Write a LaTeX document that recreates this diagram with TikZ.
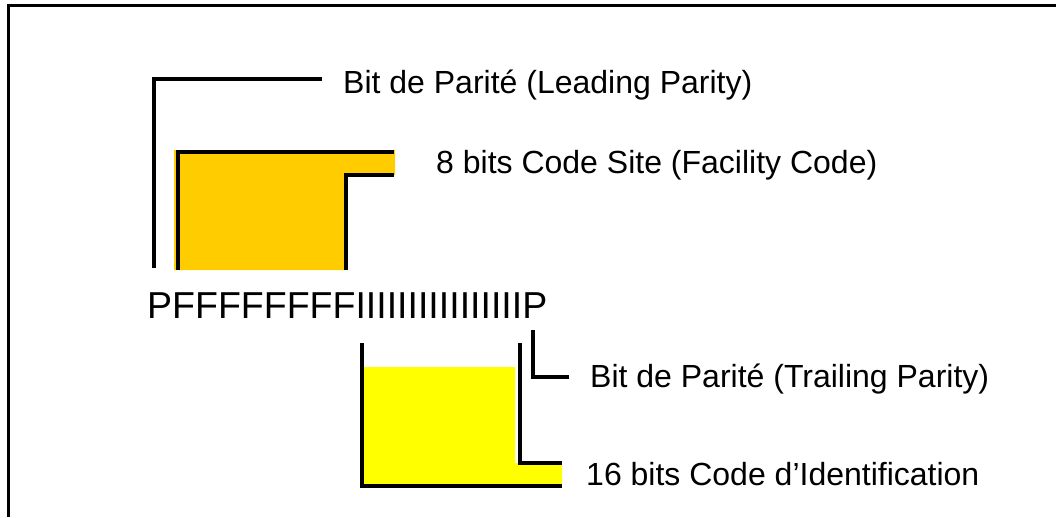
\documentclass[tikz,border=0pt]{standalone}
\usepackage{fontspec}
\setmainfont{Liberation Sans}
\definecolor{siteorange}{HTML}{FFCC00}
\definecolor{identyellow}{HTML}{FFFF00}
\tikzset{
  lbl/.style={anchor=base west, inner sep=0pt, font=\fontsize{32}{36}\selectfont},
  bracket/.style={line width=3.2pt}
}

\begin{document}
\begin{tikzpicture}[x=1pt, y=-1pt]
  \useasboundingbox (0,0) rectangle (1056,517);
  % frame
  \draw[line width=3pt] (8,517) |- (1056,5);

  % bit string
  \node[lbl, font=\fontsize{37.5}{40}\selectfont] (bits) at (147,318) {PFFFFFFFFIIIIIIIIIIIIIIIIP};

  % leading parity
  \node[lbl] (lead) at (343,93) {Bit de Parité (Leading Parity)};
  \coordinate (leadend) at (322,79);
  \draw[bracket] (154,268) |- (leadend);

  % facility code
  \fill[siteorange] (174,150) -- (395,150) -- (395,175) -- (346,175) -- (346,270) -- (174,270) -- cycle;
  \node[lbl] (site) at (436,173) {8 bits Code Site (Facility Code)};
  \coordinate (siteend) at (394,152);
  \coordinate (sitestep) at (394,175);
  \draw[bracket] (178,270) |- (siteend);
  \draw[bracket] (346,270) |- (sitestep);

  % identification code
  \fill[identyellow] (364,367) -- (515,367) -- (515,463) -- (562,463) -- (562,486) -- (364,486) -- cycle;
  \node[lbl] (ident) at (586,485) {16 bits Code d’Identification};
  \coordinate (identend) at (562,486);
  \coordinate (identstep) at (562,463);
  \draw[bracket] (362,343) |- (identend);
  \draw[bracket] (520,343) |- (identstep);

  % trailing parity
  \node[lbl] (trail) at (590,387) {Bit de Parité (Trailing Parity)};
  \coordinate (trailend) at (569,377);
  \draw[bracket] (533,330) |- (trailend);
\end{tikzpicture}
\end{document}
